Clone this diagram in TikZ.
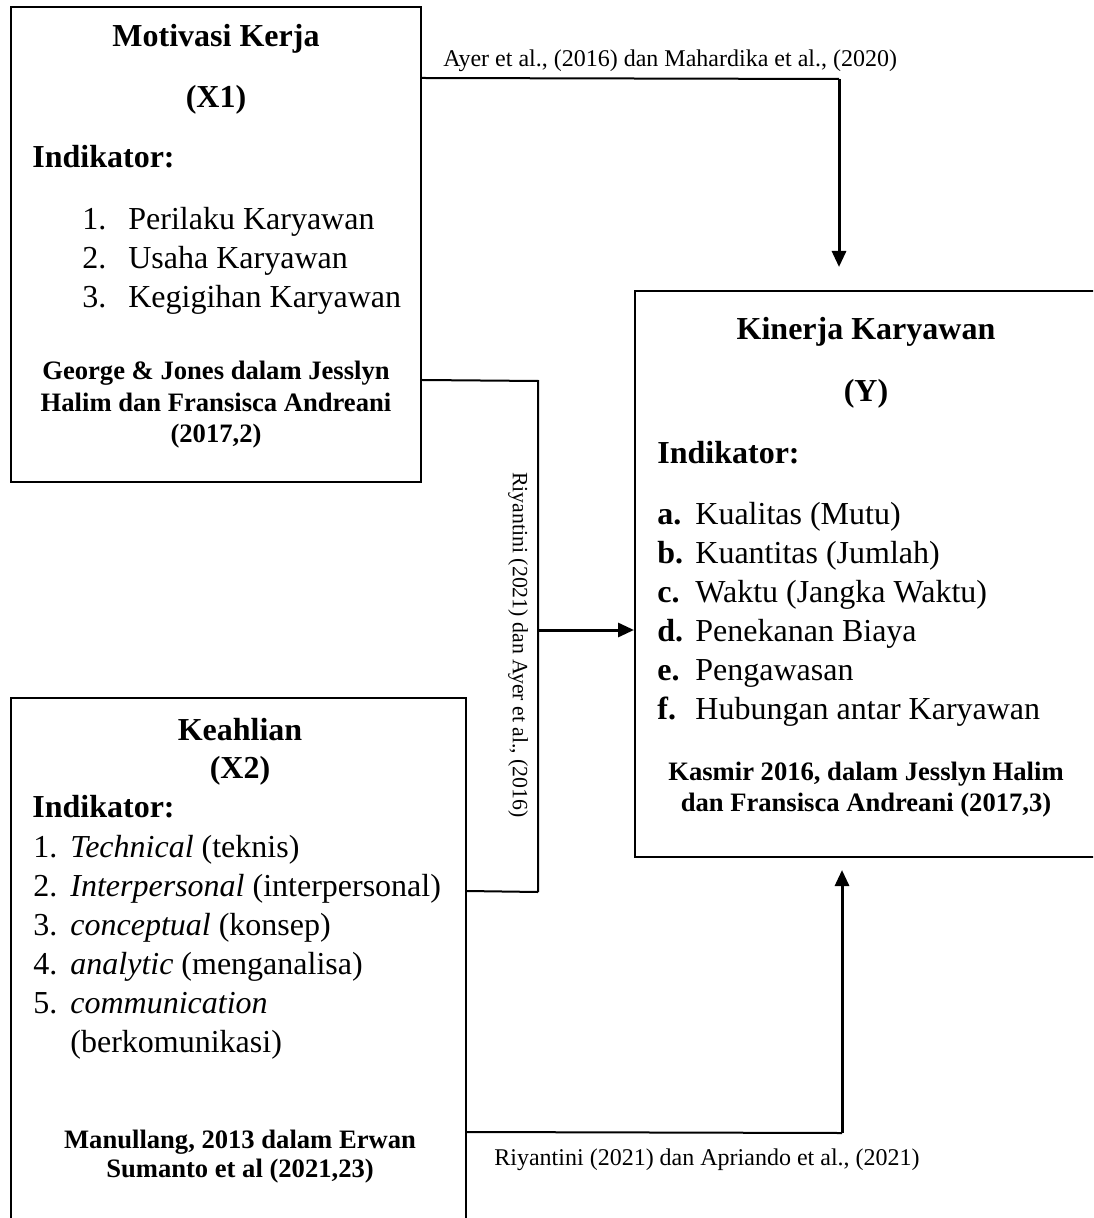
\documentclass[tikz,border=0pt]{standalone}
\usepackage{fontspec}
\setmainfont{Liberation Serif}
\usetikzlibrary{arrows.meta}
\begin{document}
\begin{tikzpicture}[x=0.5pt,y=-0.5pt,
  box/.style={draw, line width=1pt, inner sep=0pt},
  conn/.style={line width=1pt},
  arr/.style={line width=1.5pt, -{Triangle[width=7pt,length=8pt]}},
  ttl/.style={inner sep=0pt, anchor=base, font=\fontsize{16}{19}\selectfont\bfseries},
  ind/.style={inner sep=0pt, anchor=base west, font=\fontsize{16}{19}\selectfont\bfseries},
  item/.style={inner sep=0pt, anchor=base west, font=\fontsize{16}{19}\selectfont},
  cite/.style={inner sep=0pt, anchor=base, font=\fontsize{13.3}{16}\selectfont\bfseries},
  lbl/.style={inner sep=0pt, anchor=base west, font=\fontsize{12}{14}\selectfont},
  vlbl/.style={inner sep=0pt, rotate=-90, font=\fontsize{10.9}{13}\selectfont}
]
\clip (0,0) rectangle (1093,1218);
\fill[white] (0,0) rectangle (1093,1218);

% boxes
\node[box, minimum width=205pt, minimum height=237.5pt] (X1) at (216,244.5) {};
\node[box, minimum width=231pt, minimum height=283pt] (Y) at (866,574) {};
\node[box, minimum width=227.5pt, minimum height=271pt] (X2) at (238.5,969) {};

% X1 content
\node[ttl] (x1t) at (216,47) {Motivasi Kerja};
\node[ttl] (x1v) at (216,108) {(X1)};
\node[ind] (x1i) at (32,168) {Indikator:};
\node[item] (x1a) at (82,230) {\makebox[23pt][l]{1.}Perilaku Karyawan};
\node[item] (x1b) at (82,269) {\makebox[23pt][l]{2.}Usaha Karyawan};
\node[item] (x1c) at (82,308) {\makebox[23pt][l]{3.}Kegigihan Karyawan};
\node[cite] (x1s1) at (216,380) {George \& Jones dalam Jesslyn};
\node[cite] (x1s2) at (216,412) {Halim dan Fransisca Andreani};
\node[cite] (x1s3) at (216,443) {(2017,2)};

% Y content
\node[ttl] (yt) at (866,340) {Kinerja Karyawan};
\node[ttl] (yv) at (866,402) {(Y)};
\node[ind] (yi) at (657,464) {Indikator:};
\node[item] (ya) at (657,524) {\makebox[19pt][l]{\bfseries a.}Kualitas (Mutu)};
\node[item] (yb) at (657,563) {\makebox[19pt][l]{\bfseries b.}Kuantitas (Jumlah)};
\node[item] (yc) at (657,602) {\makebox[19pt][l]{\bfseries c.}Waktu (Jangka Waktu)};
\node[item] (yd) at (657,641) {\makebox[19pt][l]{\bfseries d.}Penekanan Biaya};
\node[item] (ye) at (657,680) {\makebox[19pt][l]{\bfseries e.}Pengawasan};
\node[item] (yf) at (657,719) {\makebox[19pt][l]{\bfseries f.}Hubungan antar Karyawan};
\node[cite] (ys1) at (866,780) {Kasmir 2016, dalam Jesslyn Halim};
\node[cite] (ys2) at (866,811) {dan Fransisca Andreani (2017,3)};

% X2 content
\node[ttl] (x2t) at (240,740) {Keahlian};
\node[ttl] (x2v) at (240,778) {(X2)};
\node[ind] (x2i) at (32,817) {Indikator:};
\node[item] (x2a) at (33,857) {\makebox[18.5pt][l]{1.}\textit{Technical} (teknis)};
\node[item] (x2b) at (33,896) {\makebox[18.5pt][l]{2.}\textit{Interpersonal} (interpersonal)};
\node[item] (x2c) at (33,935) {\makebox[18.5pt][l]{3.}\textit{conceptual} (konsep)};
\node[item] (x2d) at (33,974) {\makebox[18.5pt][l]{4.}\textit{analytic} (menganalisa)};
\node[item] (x2e) at (33,1013) {\makebox[18.5pt][l]{5.}\textit{communication}};
\node[item] (x2f) at (70,1052) {(berkomunikasi)};
\node[cite] (x2s1) at (240,1148) {Manullang, 2013 dalam Erwan};
\node[cite] (x2s2) at (240,1177) {Sumanto et al (2021,23)};

% junction coordinates
\coordinate (topTip) at (839,267);
\coordinate (jt) at (538,381);
\coordinate (jm) at (538,630);
\coordinate (jb) at (538,892);
\coordinate (botTip) at (842,870);

% connectors
\draw[conn] (X1.north east) ++(0,72) -- (839,79);
\draw[arr] (839,79) -- (topTip);
\draw[conn] (X1.north east) ++(0,374) -- (jt) -- (jb);
\draw[conn] (X2.north east) ++(0,194) -- (jb);
\draw[arr] (jm) -- (Y.west |- jm);
\draw[conn] (X2.north east) ++(0,435) -- (842,1133);
\draw[arr] (842,1133) -- (botTip);

% labels
\node[lbl] (l1) at (443,67) {Ayer et al., (2016) dan Mahardika et al., (2020)};
\node[vlbl] (l2) at (518,645) {Riyantini (2021) dan Ayer et al., (2016)};
\node[lbl] (l3) at (494,1165) {Riyantini (2021) dan Apriando et al., (2021)};
\end{tikzpicture}
\end{document}
